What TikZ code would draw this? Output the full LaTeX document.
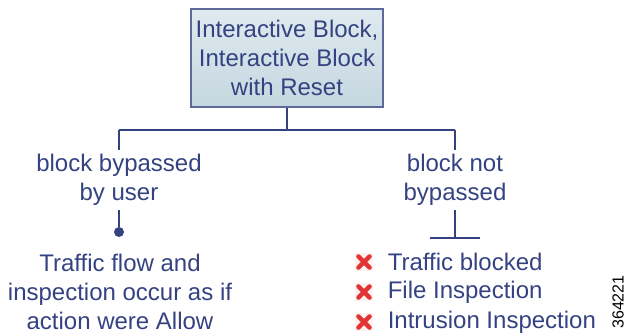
\documentclass[tikz,border=0pt]{standalone}
\usepackage{fontspec}
\setmainfont{Liberation Sans}
\usetikzlibrary{positioning}
\definecolor{ink}{RGB}{52,66,130}
\definecolor{boxtop}{RGB}{222,234,239}
\definecolor{boxbot}{RGB}{198,215,224}
\definecolor{crossred}{RGB}{226,52,52}
\tikzset{
x=0.5pt, y=-0.5pt, % one unit is one pixel of the sketch
every node/.style={text=ink, font=\fontsize{12}{14.5}\selectfont},
link/.style={draw=ink, line width=0.9pt},
actionbox/.style={draw=ink!80, line width=1pt, top color=boxtop, bottom color=boxbot,
  minimum width=96pt, minimum height=49pt, align=center, inner sep=2pt},
branch/.style={align=center, inner sep=2pt},
outcome/.style={anchor=west, inner sep=2pt},
xmark/.style={minimum size=9pt, inner sep=0pt, fill=red!5,
  path picture={
    \draw[crossred, line width=2.2pt, line cap=round]
      ([shift={(1.7pt,-1.7pt)}]path picture bounding box.north west) -- ([shift={(-1.7pt,1.7pt)}]path picture bounding box.south east)
      ([shift={(1.7pt,1.7pt)}]path picture bounding box.south west) -- ([shift={(-1.7pt,-1.7pt)}]path picture bounding box.north east);
  }},
}
\begin{document}
\begin{tikzpicture}
\useasboundingbox (0,0) rectangle (631,333);

\node[actionbox] (action) at (287,58) {Interactive Block,\\Interactive Block\\with Reset};

\coordinate (split) at (287,130);
\coordinate (lsplit) at (119,130);
\coordinate (rsplit) at (455,130);

\node[branch] (bypass) at (119,180) {block bypassed\\by user};
\node[branch] (notbypass) at (455,180) {block not\\bypassed};

\node[circle, fill=ink, minimum size=5pt, inner sep=0pt] (dot) at (119,232) {};
\node[align=center] (allow) at (120,292) {Traffic flow and\\inspection occur as if\\action were Allow};

\coordinate (tee) at (455,238);
\coordinate (teeleft) at (430,238);
\coordinate (teeright) at (480,238);

\node[xmark] (x1) at (364,262) {};
\node[xmark] (x2) at (364,292) {};
\node[xmark] (x3) at (364,322) {};
\node[outcome, right=5pt of x1] (blocked) {Traffic blocked};
\node[outcome, right=5pt of x2] (fileinsp) {File Inspection};
\node[outcome, right=5pt of x3] (intrinsp) {Intrusion Inspection};

\node[text=black, rotate=90, font=\fontsize{8}{9}\selectfont, inner sep=0pt] (figid) at (618,302) {364221};

\draw[link] (action.south) -- (split);
\draw[link] (lsplit) -- (rsplit);
\draw[link] (lsplit) -- (bypass.north);
\draw[link] (rsplit) -- (notbypass.north);
\draw[link] (bypass.south) -- (dot);
\draw[link] (notbypass.south) -- (tee);
\draw[link] (teeleft) -- (teeright);
\end{tikzpicture}
\end{document}
